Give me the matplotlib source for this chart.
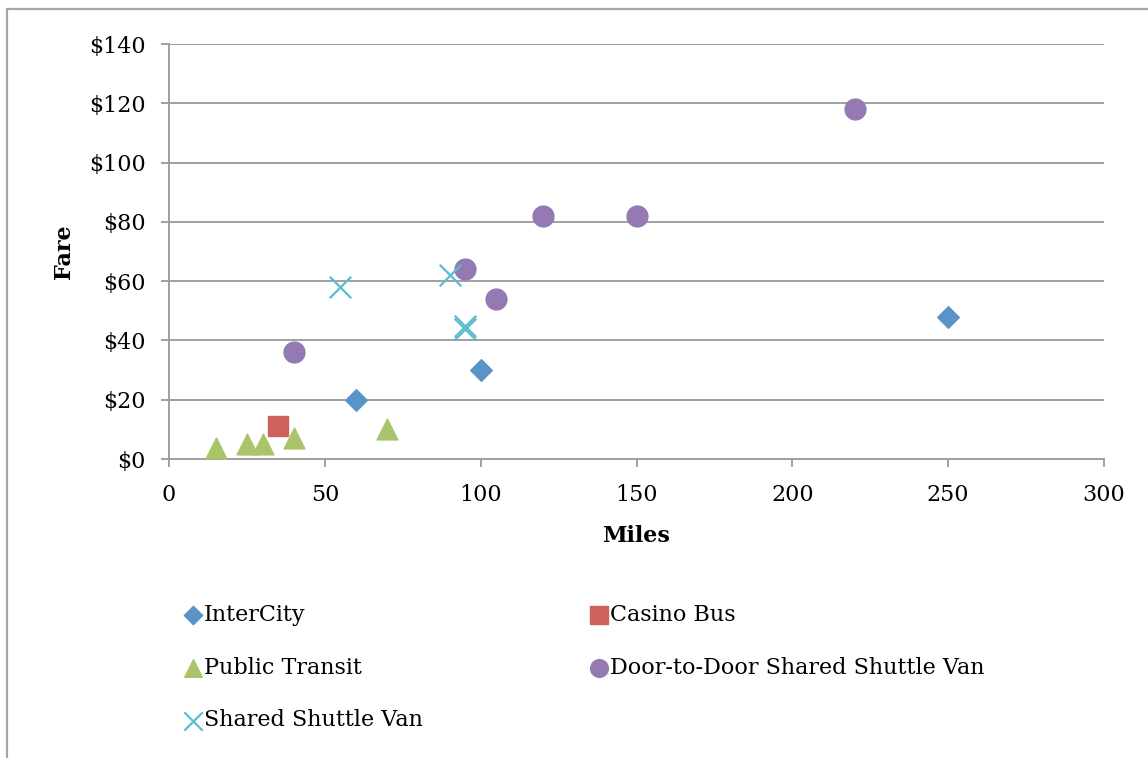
import matplotlib
matplotlib.use("Agg")
import matplotlib.pyplot as plt
from matplotlib.patches import Rectangle
from matplotlib.ticker import FuncFormatter

# data (miles, fare)
intercity_x = [60, 100, 250]
intercity_y = [20, 30, 48]
casino_x = [35]
casino_y = [11]
transit_x = [15, 25, 30, 40, 70]
transit_y = [3.75, 5, 5, 7, 10]
door_x = [40, 95, 105, 120, 150, 220]
door_y = [36, 64, 54, 82, 82, 118]
shuttle_x = [55, 90, 95, 95]
shuttle_y = [58, 62, 45, 44]

x_ticks = [0, 50, 100, 150, 200, 250, 300]
y_ticks = [0, 20, 40, 60, 80, 100, 120, 140]

GRID = "#a0a0a0"
plt.rcParams['font.family'] = ['DejaVu Serif']

fig = plt.figure(figsize=(11.48, 7.58), dpi=100)
ax = fig.add_axes([169/1148, 1 - 459/758, 935/1148, 415/758])

# outer chart border (right and bottom run off the picture)
fig.patches.append(Rectangle((7/1148, -0.1), 1.2, 1 - 9/758 + 0.1,
                             transform=fig.transFigure, fill=False,
                             edgecolor="#a6a6a6", linewidth=1.6))

ax.scatter(intercity_x, intercity_y, marker="D", s=11**2, color="#5a93c8",
           label="InterCity", zorder=3)
ax.scatter(casino_x, casino_y, marker="s", s=15**2, color="#cf635c",
           label="Casino Bus", zorder=3)
ax.scatter(transit_x, transit_y, marker="^", s=15**2, color="#a9c46a",
           label="Public Transit", zorder=3)
ax.scatter(door_x, door_y, marker="o", s=15**2, color="#9579b2",
           label="Door-to-Door Shared Shuttle Van", zorder=3)
ax.scatter(shuttle_x, shuttle_y, marker="x", s=15.5**2, color="#5bbdd0",
           linewidths=1.6, label="Shared Shuttle Van", zorder=3)

ax.set_xlim(0, 300)
ax.set_ylim(0, 140)
ax.set_xticks(x_ticks)
ax.set_yticks(y_ticks)
ax.yaxis.set_major_formatter(FuncFormatter(lambda v, p: "$%d" % v))
ax.grid(axis="y", color=GRID, linewidth=1.4, zorder=0)
ax.set_axisbelow(True)

for s in ["top", "right"]:
    ax.spines[s].set_visible(False)
for s in ["left", "bottom"]:
    ax.spines[s].set_color(GRID)
    ax.spines[s].set_linewidth(1.4)

ax.tick_params(axis="both", direction="out", length=5.8, width=1.4,
               color=GRID, labelsize=16)
ax.tick_params(axis="x", pad=12)
ax.tick_params(axis="y", pad=11)

ax.set_xlabel("Miles", fontsize=16, fontweight="bold", labelpad=14)
ax.set_ylabel("Fare", fontsize=16, fontweight="bold", labelpad=10)

handles, labels = ax.get_legend_handles_labels()
order = [0, 2, 4, 1, 3]
leg = fig.legend([handles[i] for i in order], [labels[i] for i in order],
                 ncol=2, loc="upper left", bbox_to_anchor=(162/1148, 1 - 584/758),
                 frameon=False, fontsize=16, handletextpad=0.0,
                 handlelength=1.0, columnspacing=7.4, labelspacing=1.38,
                 markerscale=0.85, scatterpoints=1)

fig.savefig("out.png", dpi=100)
